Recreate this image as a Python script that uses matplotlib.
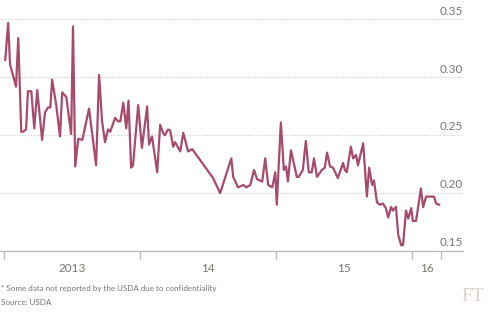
import numpy as np
import pandas as pd
import matplotlib
matplotlib.use("Agg")
import matplotlib.pyplot as plt
import matplotlib.dates as mdates
import matplotlib.transforms as mtransforms

# weekly price
dates = [
    "2013-01-04", "2013-01-12", "2013-01-17", "2013-02-02", "2013-02-08", "2013-02-16",
    "2013-02-21", "2013-03-01", "2013-03-06", "2013-03-15", "2013-03-23", "2013-03-31",
    "2013-04-13", "2013-04-21", "2013-04-29", "2013-05-05", "2013-05-10", "2013-05-21",
    "2013-05-31", "2013-06-06", "2013-06-17", "2013-06-30", "2013-07-05", "2013-07-11",
    "2013-07-19", "2013-07-30", "2013-08-17", "2013-09-05", "2013-09-13", "2013-09-21",
    "2013-09-29", "2013-10-07", "2013-10-13", "2013-10-26", "2013-11-03", "2013-11-09",
    "2013-11-17", "2013-11-25", "2013-12-01", "2013-12-08", "2013-12-13", "2013-12-27",
    "2014-01-06", "2014-01-20", "2014-01-25", "2014-02-02", "2014-02-16", "2014-02-24",
    "2014-03-04", "2014-03-09", "2014-03-17", "2014-03-23", "2014-03-31", "2014-04-05",
    "2014-04-19", "2014-04-27", "2014-05-10", "2014-05-21", "2014-07-16", "2014-08-04",
    "2014-09-03", "2014-09-08", "2014-09-21", "2014-10-05", "2014-10-13", "2014-10-24",
    "2014-11-03", "2014-11-11", "2014-11-25", "2014-12-03", "2014-12-11", "2014-12-22",
    "2014-12-30", "2015-01-03", "2015-01-14", "2015-01-22", "2015-01-28", "2015-02-02",
    "2015-02-10", "2015-02-26", "2015-03-03", "2015-03-14", "2015-03-22", "2015-03-30",
    "2015-04-07", "2015-04-13", "2015-04-21", "2015-05-04", "2015-05-12", "2015-05-18",
    "2015-05-26", "2015-06-03", "2015-06-16", "2015-06-30", "2015-07-05", "2015-07-10",
    "2015-07-21", "2015-07-27", "2015-08-04", "2015-08-09", "2015-08-23", "2015-09-02",
    "2015-09-08", "2015-09-16", "2015-09-21", "2015-09-29", "2015-10-07", "2015-10-15",
    "2015-10-23", "2015-10-29", "2015-11-06", "2015-11-11", "2015-11-19", "2015-11-25",
    "2015-12-03", "2015-12-08", "2015-12-16", "2015-12-22", "2015-12-30", "2016-01-03",
    "2016-01-12", "2016-01-25", "2016-01-31", "2016-02-08", "2016-02-21", "2016-02-29",
    "2016-03-06", "2016-03-14",
]
prices = [
    0.315, 0.347, 0.311, 0.292, 0.334, 0.253,
    0.253, 0.255, 0.288, 0.288, 0.256, 0.289,
    0.246, 0.270, 0.274, 0.274, 0.298, 0.276,
    0.249, 0.287, 0.283, 0.251, 0.344, 0.223,
    0.247, 0.246, 0.273, 0.224, 0.302, 0.262,
    0.244, 0.255, 0.253, 0.265, 0.262, 0.262,
    0.278, 0.256, 0.280, 0.222, 0.224, 0.276,
    0.239, 0.275, 0.242, 0.249, 0.218, 0.259,
    0.252, 0.250, 0.255, 0.254, 0.240, 0.244,
    0.236, 0.252, 0.236, 0.238, 0.213, 0.200,
    0.230, 0.214, 0.205, 0.207, 0.205, 0.207,
    0.220, 0.212, 0.210, 0.230, 0.207, 0.205,
    0.218, 0.190, 0.261, 0.220, 0.223, 0.210,
    0.237, 0.214, 0.214, 0.220, 0.245, 0.218,
    0.218, 0.230, 0.214, 0.220, 0.222, 0.235,
    0.223, 0.222, 0.213, 0.226, 0.220, 0.218,
    0.240, 0.230, 0.233, 0.224, 0.243, 0.197,
    0.222, 0.207, 0.211, 0.192, 0.190, 0.191,
    0.187, 0.179, 0.188, 0.185, 0.188, 0.164,
    0.155, 0.155, 0.185, 0.178, 0.187, 0.176,
    0.176, 0.204, 0.188, 0.197, 0.197, 0.197,
    0.191, 0.190,
]

y_ticks = [0.15, 0.20, 0.25, 0.30, 0.35]
year_bounds = ["2013-01-01", "2014-01-01", "2015-01-01", "2016-01-01", "2016-03-19"]
year_labels = ["2013", "14", "15", "16"]

footnote = "* Some data not reported by the USDA due to confidentiality"
source = "Source: USDA"

line_color = "#a84a6c"
text_color = "#7a7670"
grid_color = "#d6d2ce"

plt.rcParams["font.family"] = ["Lato", "DejaVu Sans"]

fig = plt.figure(figsize=(5.0, 3.22), dpi=100)
ax = fig.add_axes([0.0, 0.2205, 0.926, 0.755])

x = pd.to_datetime(dates)
ax.plot(x, prices, color=line_color, lw=1.6, solid_joinstyle="round", zorder=3)

ax.set_ylim(0.15, 0.36)
ax.set_xlim(pd.Timestamp("2012-12-21"), pd.Timestamp("2016-05-17"))

# horizontal dotted gridlines with labels sitting on top, right side
for v in y_ticks[1:]:
    ax.axhline(v, color=grid_color, lw=0.9, ls=(0, (1, 1.2)), zorder=1)
trans = mtransforms.blended_transform_factory(ax.transAxes, ax.transData)
for v in y_ticks:
    ax.annotate(f"{v:.2f}", xy=(1.0, v), xycoords=trans, xytext=(0, 2),
                textcoords="offset points", ha="right", va="bottom",
                fontsize=8.5, color=text_color)

for s in ["top", "right", "left"]:
    ax.spines[s].set_visible(False)
ax.spines["bottom"].set_color("#bdb7b0")
ax.spines["bottom"].set_linewidth(0.9)
ax.set_yticks([])

# year boundaries as ticks, labels centred between them
bounds = pd.to_datetime(year_bounds)
ax.set_xticks(bounds)
ax.set_xticklabels([])
mids = [bounds[i] + (bounds[i + 1] - bounds[i]) / 2 for i in range(len(bounds) - 1)]
ax.set_xticks(mids, minor=True)
ax.set_xticklabels(year_labels, minor=True)
ax.tick_params(axis="x", which="major", length=6, width=0.9, color="#bdb7b0")
ax.tick_params(axis="x", which="minor", length=0, pad=9, labelsize=8.5,
               labelcolor=text_color)

fig.text(0.002, 0.105, footnote, fontsize=5.8, color=text_color, ha="left", va="center")
fig.text(0.002, 0.062, source, fontsize=5.8, color=text_color, ha="left", va="center")
fig.text(0.945, 0.078, "FT", fontsize=14, color="#ddd0c6", ha="center", va="center",
         family="Liberation Serif")

fig.savefig("out.png", dpi=100, facecolor="white")
